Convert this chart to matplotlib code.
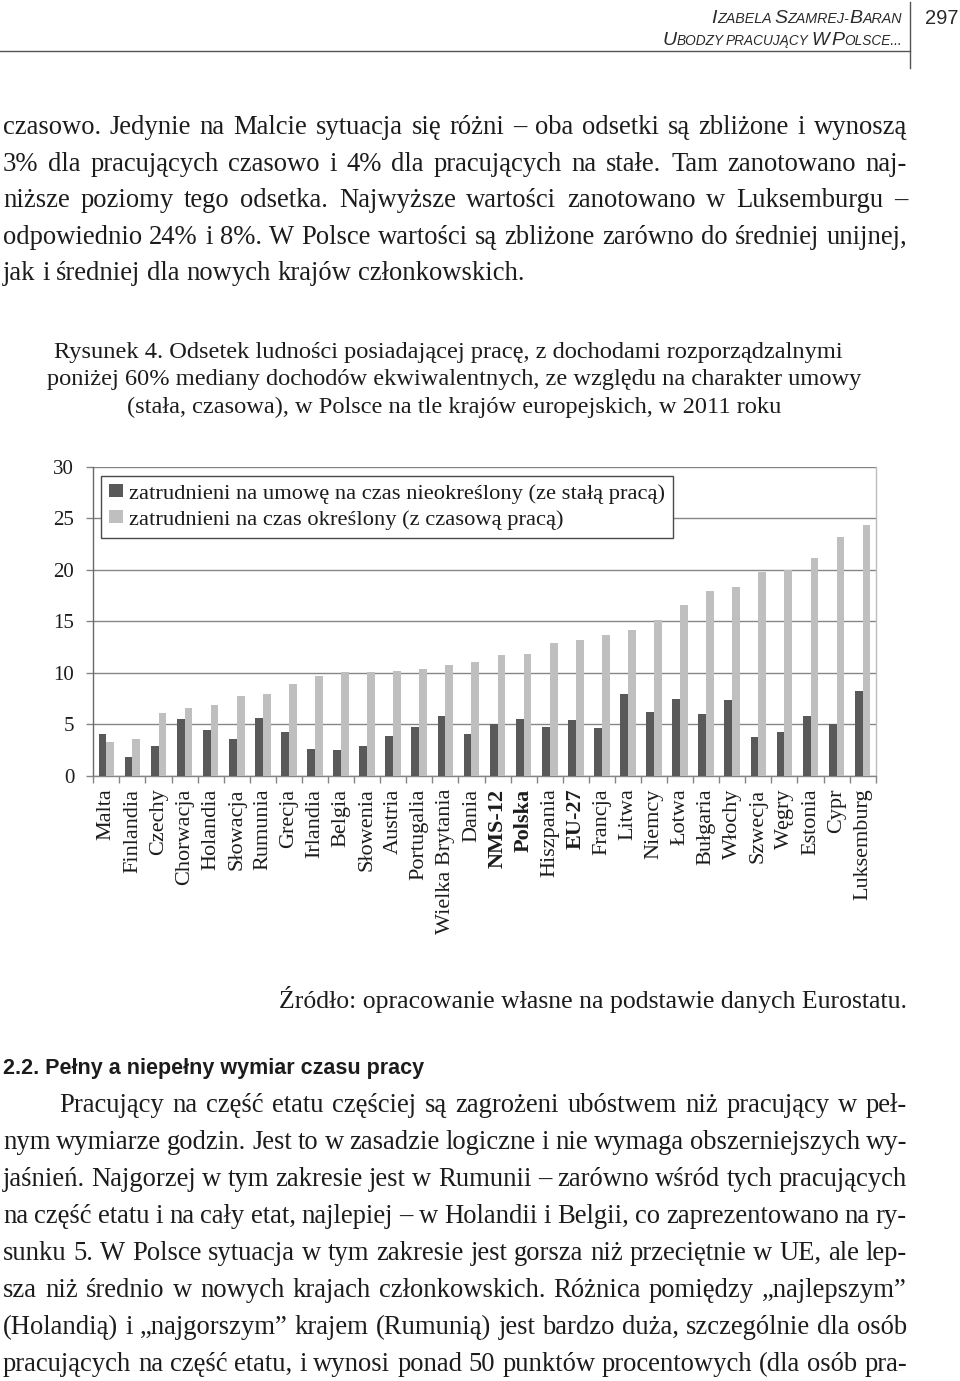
import matplotlib
matplotlib.use("Agg")
import matplotlib.pyplot as plt
import numpy as np
from matplotlib.patches import Rectangle
from matplotlib.legend_handler import HandlerPatch
from matplotlib.lines import Line2D

# ---------------- data ----------------
countries = ["Malta", "Finlandia", "Czechy", "Chorwacja", "Holandia", "Słowacja",
             "Rumunia", "Grecja", "Irlandia", "Belgia", "Słowenia", "Austria",
             "Portugalia", "Wielka Brytania", "Dania", "NMS-12", "Polska",
             "Hiszpania", "EU-27", "Francja", "Litwa", "Niemcy", "Łotwa",
             "Bułgaria", "Włochy", "Szwecja", "Węgry", "Estonia", "Cypr",
             "Luksemburg"]
bold_labels = ["NMS-12", "Polska", "EU-27"]
permanent = [4.1, 1.8, 2.9, 5.5, 4.5, 3.6, 5.6, 4.3, 2.6, 2.5, 2.9, 3.9, 4.8,
             5.8, 4.1, 5.0, 5.5, 4.8, 5.4, 4.7, 8.0, 6.2, 7.5, 6.0, 7.4, 3.8,
             4.3, 5.8, 5.0, 8.2]
temporary = [3.3, 3.6, 6.1, 6.6, 6.9, 7.8, 8.0, 8.9, 9.7, 10.1, 10.1, 10.2,
             10.4, 10.8, 11.1, 11.7, 11.8, 12.9, 13.2, 13.7, 14.2, 15.1, 16.6,
             17.9, 18.3, 19.8, 20.0, 21.1, 23.2, 24.3]
series_labels = ["zatrudnieni na umowę na czas nieokreślony (ze stałą pracą)",
                 "zatrudnieni na czas określony (z czasową pracą)"]
yticks = [0, 5, 10, 15, 20, 25, 30]

W, H = 960, 1381
SERIF = ["Liberation Serif", "DejaVu Serif"]
SANS = ["Liberation Sans", "DejaVu Sans"]
NARROW = ["Liberation Sans Narrow", "Liberation Sans", "DejaVu Sans"]
TXT = "#1c1c1c"
DARK = "#595959"
LIGHT = "#bfbfbf"

fig = plt.figure(figsize=(W / 100, H / 100), dpi=100)
fig.patch.set_facecolor("white")
renderer = fig.canvas.get_renderer()


def fx(x):
    return x / W


def fy(y):
    return 1 - y / H


def tw(s, **kw):
    t = fig.text(0, 0, s, **kw)
    w = t.get_window_extent(renderer).width
    t.remove()
    return w


def line_text(s, x0, x1, y, size, family=SERIF, justify=True, **kw):
    words = s.split(" ")
    props = dict(fontsize=size, family=family, color=TXT, **kw)
    widths = [tw(w, **props) for w in words]
    if justify and len(words) > 1:
        gap = (x1 - x0 - sum(widths)) / (len(words) - 1)
    else:
        gap = tw("a a", **props) - tw("aa", **props)
    x = x0
    for w, wd in zip(words, widths):
        fig.text(fx(x), fy(y), w, ha="left", va="baseline", **props)
        x += wd + gap


def runs_right(runs, xr, y, family=SANS, style="italic", space=0.8):
    # runs: list of (text, size); " " entries are spaces
    widths = []
    for s, sz in runs:
        if s == " ":
            widths.append(space * (tw("a a", fontsize=sz, family=family, style=style)
                                   - tw("aa", fontsize=sz, family=family, style=style)))
        else:
            widths.append(tw(s, fontsize=sz, family=family, style=style))
    x = xr - sum(widths)
    for (s, sz), wd in zip(runs, widths):
        if s != " ":
            fig.text(fx(x), fy(y), s, fontsize=sz, family=family, style=style,
                     color="#2a2a2a", ha="left", va="baseline")
        x += wd


# ---------------- header ----------------
B, S = 14.0, 10.3
runs_right([("I", B), ("ZABELA", S), (" ", S), ("S", B), ("ZAMREJ-", S),
            ("B", B), ("ARAN", S)], 902, 23)
runs_right([("U", B), ("BODZY", S - 0.5), (" ", S), ("PRACUJĄCY", S - 0.5), (" ", S),
            ("W", B - 0.5), (" ", S), ("P", B), ("OLSCE...", S - 0.5)], 902, 45, space=0.6)
fig.text(fx(925), fy(24), "297", fontsize=14.5, family=SANS, color="#2a2a2a",
         ha="left", va="baseline")
fig.add_artist(Line2D([0, fx(910)], [fy(51), fy(51)], color="#555555", lw=1.0))
fig.add_artist(Line2D([fx(910), fx(910)], [fy(2), fy(68)], color="#555555", lw=1.0))

# ---------------- body text 1 ----------------
BODY = 19.2
body1 = ["czasowo. Jedynie na Malcie sytuacja się różni – oba odsetki są zbliżone i wynoszą",
         "3% dla pracujących czasowo i 4% dla pracujących na stałe. Tam zanotowano naj-",
         "niższe poziomy tego odsetka. Najwyższe wartości zanotowano w Luksemburgu –",
         "odpowiednio 24% i 8%. W Polsce wartości są zbliżone zarówno do średniej unijnej,",
         "jak i średniej dla nowych krajów członkowskich."]
for i, s in enumerate(body1):
    line_text(s, 3, 907, 134.3 + i * 36.4, BODY, justify=(i < len(body1) - 1))

# ---------------- caption ----------------
CAP = 17.6
caption = ["Rysunek 4. Odsetek ludności posiadającej pracę, z dochodami rozporządzalnymi",
           "poniżej 60% mediany dochodów ekwiwalentnych, ze względu na charakter umowy",
           "(stała, czasowa), w Polsce na tle krajów europejskich, w 2011 roku"]
cap_centers = [448, 454, 454]
for i, s in enumerate(caption):
    fig.text(fx(cap_centers[i]), fy(358 + i * 27.5), s, fontsize=CAP, family=SERIF,
             color=TXT, ha="center", va="baseline")

# ---------------- chart ----------------
x0, x1, y0, y30 = 93.3, 875.7, 776, 466.7
ax = fig.add_axes([fx(x0), fy(y0), (x1 - x0) / W, (y0 - y30) / H])
n = len(countries)
xs = np.arange(n)
bw = 0.3
ax.bar(xs - bw / 2, permanent, width=bw, color=DARK, label=series_labels[0], zorder=3)
ax.bar(xs + bw / 2, temporary, width=bw, color=LIGHT, label=series_labels[1], zorder=3)
ax.set_xlim(-0.5, n - 0.5)
ax.set_ylim(0, 30)
ax.set_yticks(yticks)
ax.set_yticklabels([str(v) for v in yticks], fontsize=15, family=SERIF, color=TXT)
ax.yaxis.grid(True, color="#858585", lw=1.0, zorder=0)
ax.set_axisbelow(True)
ax.tick_params(axis="y", length=6.6 * 0.72, width=1.0, color="#858585", pad=9)
ax.set_xticks(xs)
ax.set_xticklabels(countries, rotation=90, fontsize=16, family=SERIF, color=TXT,
                   va="top", ha="center")
for lab in ax.get_xticklabels():
    if lab.get_text() in bold_labels:
        lab.set_fontweight("bold")
ax.tick_params(axis="x", which="major", length=0, pad=9)
ax.set_xticks(np.arange(-0.5, n, 1.0), minor=True)
ax.tick_params(axis="x", which="minor", length=5, width=1.0, color="#858585",
               direction="out")
ax.spines["top"].set_visible(False)
ax.spines["right"].set_color("#bdbdbd")
ax.spines["left"].set_color("#6a6a6a")
ax.spines["bottom"].set_color("#858585")
for sp in ax.spines.values():
    sp.set_linewidth(1.0)


def square(legend, orig_handle, xdescent, ydescent, width, height, fontsize):
    s = 8.0
    return Rectangle((-xdescent + width - s, -ydescent + (height - s) / 2), s, s)


leg = ax.legend(loc="upper left", bbox_to_anchor=((101 - x0) / (x1 - x0), (y0 - 476) / (y0 - y30)),
                borderaxespad=0, fancybox=False, frameon=True, edgecolor="#4a4a4a",
                framealpha=1, prop={"family": SERIF, "size": 16.2},
                handlelength=0.62, handleheight=0.5, handletextpad=0.27,
                borderpad=0.36, labelspacing=0.28,
                handler_map={Rectangle: HandlerPatch(patch_func=square)})
leg.get_frame().set_linewidth(1.0)
for t in leg.get_texts():
    t.set_color(TXT)

# ---------------- source ----------------
fig.text(fx(907), fy(1008), "Źródło: opracowanie własne na podstawie danych Eurostatu.",
         fontsize=18.5, family=SERIF, color=TXT, ha="right", va="baseline")

# ---------------- section heading ----------------
fig.text(fx(3), fy(1074), "2.2. Pełny a niepełny wymiar czasu pracy", fontsize=15.5,
         family=NARROW, weight="bold", color=TXT, ha="left", va="baseline")

# ---------------- body text 2 ----------------
body2 = ["Pracujący na część etatu częściej są zagrożeni ubóstwem niż pracujący w peł-",
         "nym wymiarze godzin. Jest to w zasadzie logiczne i nie wymaga obszerniejszych wy-",
         "jaśnień. Najgorzej w tym zakresie jest w Rumunii – zarówno wśród tych pracujących",
         "na część etatu i na cały etat, najlepiej – w Holandii i Belgii, co zaprezentowano na ry-",
         "sunku 5. W Polsce sytuacja w tym zakresie jest gorsza niż przeciętnie w UE, ale lep-",
         "sza niż średnio w nowych krajach członkowskich. Różnica pomiędzy „najlepszym”",
         "(Holandią) i „najgorszym” krajem (Rumunią) jest bardzo duża, szczególnie dla osób",
         "pracujących na część etatu, i wynosi ponad 50 punktów procentowych (dla osób pra-"]
for i, s in enumerate(body2):
    line_text(s, 59 if i == 0 else 3, 907, 1112.5 + i * 36.9, BODY)

fig.savefig("out.png", dpi=100, facecolor="white")
